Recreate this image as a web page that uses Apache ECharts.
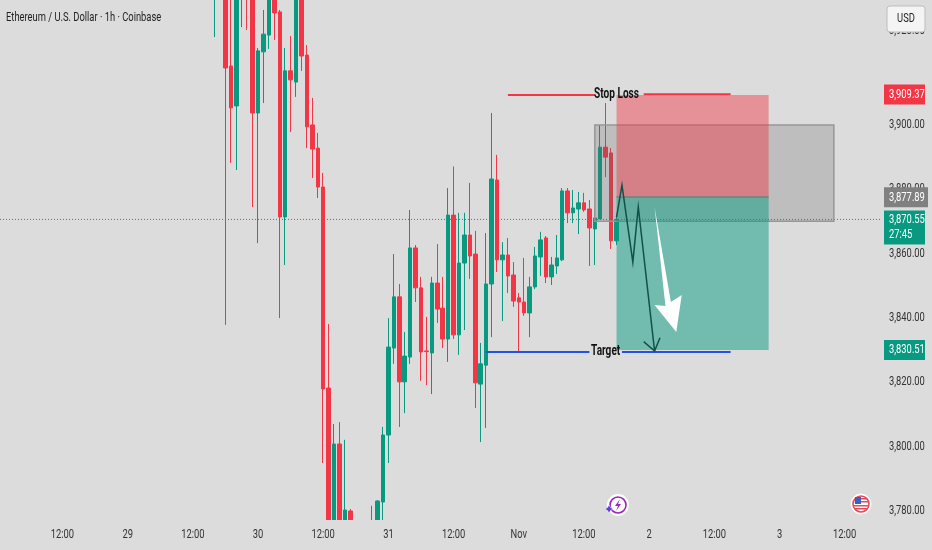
<!DOCTYPE html>
<html><head><meta charset="utf-8">
<script src="https://cdn.jsdelivr.net/npm/echarts@6/dist/echarts.min.js"></script>
<style>html,body{margin:0;padding:0;background:#dcdcdc}#c{width:932px;height:550px}</style>
</head><body><div id="c"></div>
<script>
var slotCount = 162;
var firstCandle = 39;
var tickSlots = [11,23,35,47,59,71,83,95,107,119,131,143,155];
var timeLabels = ['12:00','29','12:00','30','12:00','31','12:00','Nov','12:00','2','12:00','3','12:00'];
var priceTicks = [3780,3800,3820,3840,3860,3880,3900,3929];
var priceLabels = ['3,780.00','3,800.00','3,820.00','3,840.00','3,860.00','3,880.00','3,900.00','3,920.00'];

var opens = [3942,3950,3950,3918.2,3905.8,3942,3948,3945,3903.6,3922.6,3927.8,3942,3935,3871.3,3916.7,3913.2,3942,3921.6,3899.9,3892.7,
3880.6,3818.2,3770,3800.8,3770,3780,3772,3770,3768,3770,3772,3782.8,3803.6,3830.6,3846.5,3820.1,3827.8,3861.7,3849.3,3829.7,
3829.1,3850.8,3843,3833.4,3871.9,3834.7,3857,3865.7,3859.8,3819.4,3825.3,3850.5,3882.8,3858,3859.5,3853.3,3846.2,3844.9,3841.5,3849.6,
3858.9,3864.8,3852.7,3856.1,3858,3879.4,3872.6,3873.8,3875.7,3873.8,3867.6,3870.7,3893,3891.2,3863.9];
var closes = [3950,3945,3917.6,3905.2,3945,3948,3942,3903.6,3922.9,3928.1,3942,3934.7,3871.3,3916.7,3913.9,3942,3921.3,3899.3,3892.4,3880.6,
3817.9,3770,3800.8,3770,3780.3,3770,3768,3772,3770,3775,3783.1,3803.6,3830.9,3846.5,3820.1,3828.1,3861.7,3849.3,3829.4,3829.5,
3850.8,3842.7,3833.4,3871.9,3834.7,3857,3865.7,3859.2,3819.8,3825.7,3850.5,3883.1,3858,3859.5,3853,3845.2,3844.9,3841.5,3849.6,3859.2,
3864.2,3852.7,3856.4,3858.6,3879.4,3872.6,3874.1,3875.7,3873.5,3867.9,3871,3893,3889.9,3863.9,3870.55];
var lows = [3927.2,3941,3837.8,3888.1,3885.9,3930.3,3929.4,3874.4,3863.2,3906.7,3923.5,3926.3,3839.9,3856.4,3897.7,3908.6,3916.7,3892.7,3883.4,3877.2,
3794.9,3765,3765,3765,3765,3765,3762,3764,3762,3765,3768,3770,3794.9,3825.7,3806.1,3810.4,3825.7,3844.9,3820.4,3819.1,
3816.3,3838.4,3830.6,3826.3,3833.4,3828.5,3836.2,3852.1,3812,3801.4,3805.8,3834,3854.2,3839,3847.7,3843.4,3829.4,3840.6,3834,3848.9,
3853,3850.8,3850.2,3853.6,3857.6,3869.4,3869.4,3866,3872.9,3856.1,3856.4,3870.7,3883.7,3861.4,3862.6];
var highs = [3952,3955,3955,3945,3950,3950,3952,3950,3923.8,3935.6,3945,3945,3935.6,3923.8,3927.5,3945,3945,3924.7,3908.3,3897.4,
3885,3838.1,3807,3807.6,3802.1,3780.6,3775,3774,3773,3781.6,3783.4,3806.1,3839.9,3859.8,3850.5,3835.6,3873.5,3862.6,3852.7,3840.3,
3852.7,3862.9,3852.7,3880.3,3887,3872.6,3872.6,3881.9,3867,3832.2,3866.3,3903.6,3890.6,3863.5,3864.8,3857.3,3847.7,3858.6,3852.7,3862,
3866.7,3865.4,3858.9,3865.7,3880.3,3880.3,3879.7,3879.1,3878.8,3876.6,3873.5,3899.9,3906.7,3892.7,3872];

var currentPrice = 3870.55;
var stopZone = [113, 141, 3909.2, 3877.5];
var targetZone = [113, 141, 3877.5, 3830];
var greyZone = [109, 153, 3899.9, 3870];
var stopSegments = [[[93,3909.2],[108.5,3909.2]],[[118,3909.4],[134,3909.4]]];
var targetSegments = [[[89,3829.4],[108,3829.4]],[[114.4,3829.4],[134,3829.4]]];
var stopText = ['Stop Loss', 113.3, 3909.2];
var targetText = ['Target', 111.3, 3829.4];
var zigzag = [[112.9,3871.3],[113.8,3881.2],[115.9,3857.3],[116.8,3874.4],[119.7,3829.7]];
var zigzagHead = [[118.3,3832.6],[119.7,3829.7],[121.2,3833.8]];
var whiteArrow = [[119.72,3874.4],[123.4,3844.9],[125.24,3847.1],[123.95,3835.6],[120.46,3844],[122.3,3843.7]];
var priceTags = [
  {text:'3,909.37', price:3909.37, color:'#f23645', h:20, w:41},
  {text:'3,877.89', price:3877.4, color:'#808080', h:20, w:44},
  {text:'3,830.51', price:3830.0, color:'#089981', h:20, w:41}
];
var liveTag = {top:'3,870.55', bottom:'27:45', price:3870.55};

var FONT = 'Roboto,"Liberation Sans",sans-serif';
var SQUEEZE = 0.72;
var cats = [];
for (var n = 0; n < slotCount; n++) cats.push(String(n));
var candles = [];
for (n = 0; n < slotCount; n++) {
  var k = n - firstCandle;
  candles.push(k >= 0 && k < opens.length ? [opens[k], closes[k], lows[k], highs[k]] : '-');
}

var chart = echarts.init(document.getElementById('c'));

function label(text, x, y, font, fill, align) {
  return {type:'text', x:x, y:y, scaleX:SQUEEZE, style:{text:text,x:0,y:0,fill:fill,font:font,align:align,verticalAlign:'middle'}};
}

function overlay(params, api) {
  var c = function (p) { return api.coord([p[0], p[1]]); };
  var rectOf = function (z, fill) {
    var a = c([z[0], z[2]]), b = c([z[1], z[3]]);
    return {x:a[0], y:a[1], width:b[0]-a[0], height:b[1]-a[1], fill:fill};
  };
  var kids = [];
  var gridRight = 880;
  var curY = c([0, currentPrice])[1];
  kids.push({type:'line', shape:{x1:0,y1:curY,x2:gridRight,y2:curY}, style:{stroke:'#089981',lineWidth:1,lineDash:[1,2]}});
  var g = rectOf(greyZone, 'rgba(100,100,100,0.25)');
  kids.push({type:'rect', shape:{x:g.x,y:g.y,width:g.width,height:g.height}, style:{fill:g.fill,stroke:'#969696',lineWidth:1.5}});
  var s = rectOf(stopZone, 'rgba(242,54,69,0.45)');
  kids.push({type:'rect', shape:{x:s.x,y:s.y,width:s.width,height:s.height}, style:{fill:s.fill}});
  var t = rectOf(targetZone, 'rgba(8,153,129,0.5)');
  kids.push({type:'rect', shape:{x:t.x,y:t.y,width:t.width,height:t.height}, style:{fill:t.fill}});
  kids.push({type:'line', shape:{x1:t.x,y1:t.y,x2:t.x+t.width,y2:t.y}, style:{stroke:'rgba(90,130,120,0.8)',lineWidth:1.5}});
  stopSegments.forEach(function (l) {
    var a=c(l[0]), b=c(l[1]);
    kids.push({type:'line', shape:{x1:a[0],y1:a[1],x2:b[0],y2:b[1]}, style:{stroke:'#f23645',lineWidth:2}});
  });
  targetSegments.forEach(function (l) {
    var a=c(l[0]), b=c(l[1]);
    kids.push({type:'line', shape:{x1:a[0],y1:a[1],x2:b[0],y2:b[1]}, style:{stroke:'#1e53e5',lineWidth:2}});
  });
  [stopText, targetText].forEach(function (l) {
    var a=c([l[1],l[2]]);
    kids.push(label(l[0], a[0], a[1], 'bold 14px '+FONT, '#111', 'center'));
  });
  kids.push({type:'polyline', shape:{points:zigzag.map(c)}, style:{fill:null,stroke:'#12504a',lineWidth:1.5}});
  kids.push({type:'polyline', shape:{points:zigzagHead.map(c)}, style:{fill:null,stroke:'#12504a',lineWidth:1.5}});
  kids.push({type:'polygon', shape:{points:whiteArrow.map(c)}, style:{fill:'#ffffff'}});

  // time pane: hides candle parts below the plot, then the time labels
  var bottom = c([0, 3777.2])[1];
  kids.push({type:'rect', shape:{x:0,y:bottom,width:932,height:550-bottom}, style:{fill:'#dcdcdc'}});
  tickSlots.forEach(function (slot, j) {
    kids.push(label(timeLabels[j], c([slot,0])[0], 535, '13px '+FONT, '#333', 'center'));
  });
  priceTicks.forEach(function (v, j) {
    kids.push(label(priceLabels[j], 889, c([0,v])[1], '13px '+FONT, '#333', 'left'));
  });
  priceTags.forEach(function (d) {
    var y=c([0,d.price])[1];
    kids.push({type:'rect', shape:{x:884,y:y-d.h/2,width:d.w,height:d.h}, style:{fill:d.color}});
    kids.push(label(d.text, 889, y, '13px '+FONT, '#fff', 'left'));
  });
  var ly=c([0,liveTag.price])[1];
  kids.push({type:'rect', shape:{x:884,y:ly-9,width:41,height:34}, style:{fill:'#089981'}});
  kids.push(label(liveTag.top, 889, ly, '13px '+FONT, '#fff', 'left'));
  kids.push(label(liveTag.bottom, 889, ly+15, '13px '+FONT, '#fff', 'left'));
  kids.push(label('Ethereum / U.S. Dollar · 1h · Coinbase', 6, 18, '13px '+FONT, '#222', 'left'));
  kids.push({type:'rect', shape:{x:887,y:6,width:38,height:26,r:3}, style:{fill:'#f4f4f4',stroke:'#bdbdbd',lineWidth:1}});
  kids.push(label('USD', 906, 19, '13px '+FONT, '#222', 'center'));
  return {type:'group', children:kids};
}

chart.setOption({
  animation:false,
  backgroundColor:'#dcdcdc',
  grid:{left:0,right:52,top:0,bottom:30,outerBoundsMode:'none'},
  xAxis:{type:'category',data:cats,boundaryGap:true,
    axisLine:{show:false},axisTick:{show:false},splitLine:{show:false},axisLabel:{show:false}},
  yAxis:{type:'value',position:'right',min:3777.2,max:3938.7,
    axisLine:{show:false},axisTick:{show:false},splitLine:{show:false},axisLabel:{show:false}},
  series:[
    {type:'candlestick',data:candles,barWidth:4,z:2,
     itemStyle:{color:'#089981',color0:'#f23645',borderColor:'#089981',borderColor0:'#f23645',borderWidth:1}},
    {type:'custom',data:[[0,0]],z:5,silent:true,renderItem:overlay,encode:{x:0,y:1}}
  ],
  graphic:[
    {type:'circle',z:10,shape:{cx:618,cy:505,r:10},style:{fill:'#fff',stroke:'#fff',lineWidth:2}},
    {type:'circle',z:10,shape:{cx:618,cy:505,r:8},style:{fill:'#fff',stroke:'#9c27b0',lineWidth:1.6}},
    {type:'polygon',z:11,shape:{points:[[620,499],[615,506],[618,506],[616,511],[621,504],[618,504]]},style:{fill:'#9c27b0'}},
    {type:'polygon',z:12,shape:{points:[[609,505],[610.5,507.5],[613,509],[610.5,510.5],[609,513],[607.5,510.5],[605,509],[607.5,507.5]]},style:{fill:'#5b3fe0',stroke:'#fff',lineWidth:0.5}},
    {type:'circle',z:10,shape:{cx:861,cy:504,r:10},style:{fill:'#fff',stroke:'#fff',lineWidth:1}},
    {type:'circle',z:11,shape:{cx:861,cy:504,r:8},style:{fill:'#fff',stroke:'#e8495a',lineWidth:1.6}},
    {type:'rect',z:12,shape:{x:855,y:497,width:6,height:7},style:{fill:'#3b5fc0'}},
    {type:'rect',z:12,shape:{x:861,y:498,width:6,height:1.5},style:{fill:'#e8495a'}},
    {type:'rect',z:12,shape:{x:861,y:501,width:7,height:1.5},style:{fill:'#e8495a'}},
    {type:'rect',z:12,shape:{x:854,y:505,width:14,height:1.5},style:{fill:'#e8495a'}},
    {type:'rect',z:12,shape:{x:855,y:508,width:12,height:1.5},style:{fill:'#e8495a'}}
  ]
});
</script></body></html>
